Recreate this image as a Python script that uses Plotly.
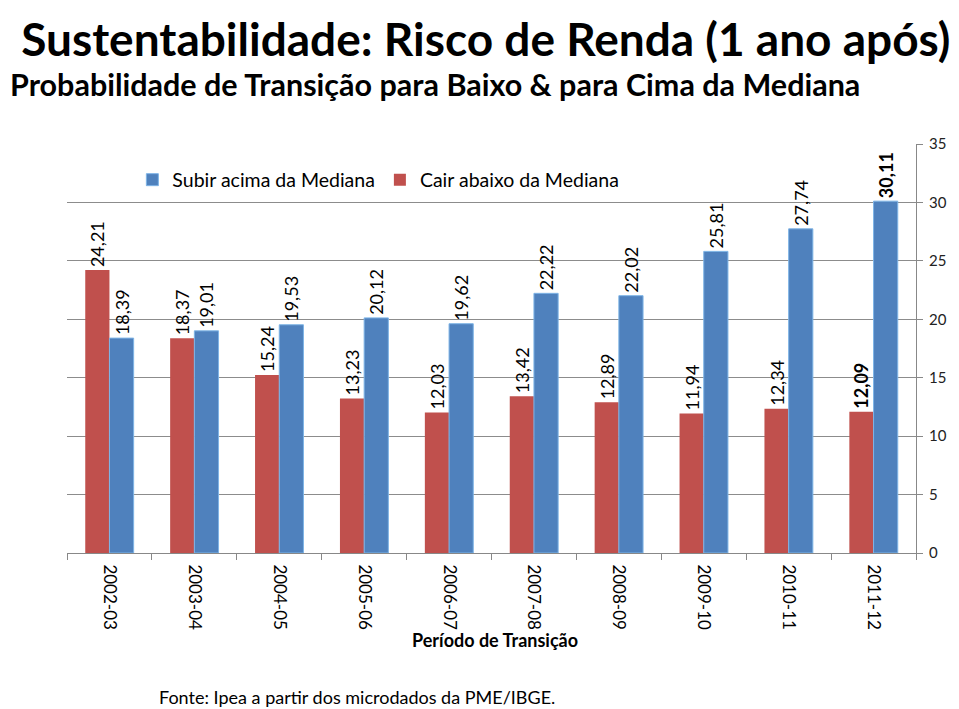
import plotly.graph_objects as go

categories = ["2002-03", "2003-04", "2004-05", "2005-06", "2006-07",
              "2007-08", "2008-09", "2009-10", "2010-11", "2011-12"]
cair = [24.21, 18.37, 15.24, 13.23, 12.03, 13.42, 12.89, 11.94, 12.34, 12.09]
subir = [18.39, 19.01, 19.53, 20.12, 19.62, 22.22, 22.02, 25.81, 27.74, 30.11]
y_ticks = [0, 5, 10, 15, 20, 25, 30, 35]

title_text = "Sustentabilidade: Risco de Renda (1 ano após)"
subtitle_text = "Probabilidade de Transição para Baixo &amp; para Cima da Mediana"

RED = "#C0504D"
BLUE = "#4F81BD"
FONT = "Lato"

def fmt(vals):
    out = []
    for i, v in enumerate(vals):
        s = f"{v:.2f}".replace(".", ",")
        if i == len(vals) - 1:
            s = f"<b>{s}</b>"
        out.append(s)
    return out

fig = go.Figure()
fig.add_trace(go.Bar(
    x=categories, y=cair, name="Cair abaixo da Mediana",
    marker=dict(color=RED, line=dict(width=0)),
    text=fmt(cair), textposition="outside", textangle=-90,
    constraintext="none",
    textfont=dict(size=18, color="black", family=FONT),
    cliponaxis=False,
))
fig.add_trace(go.Bar(
    x=categories, y=subir, name="Subir acima da Mediana",
    marker=dict(color=BLUE, line=dict(width=1, color="#7EB4E6")),
    text=fmt(subir), textposition="outside", textangle=-90,
    constraintext="none",
    textfont=dict(size=18, color="black", family=FONT),
    cliponaxis=False,
))

fig.update_layout(
    width=951, height=701,
    margin=dict(l=59, r=34, t=136, b=156),
    paper_bgcolor="white", plot_bgcolor="white",
    barmode="group", bargap=0.43, bargroupgap=0,
    font=dict(family=FONT, color="black"),
    showlegend=True,
    legend=dict(orientation="h", traceorder="reversed",
                x=0.077, y=0.912, xanchor="left", yanchor="middle",
                font=dict(size=19.5, family=FONT), bgcolor="rgba(0,0,0,0)",
                itemwidth=30),
)
fig.update_xaxes(
    type="category", tickangle=90, tickfont=dict(size=17, family=FONT, color="black"),
    ticklabelstandoff=7,
    showline=True, linecolor="#888888", linewidth=1,
    ticks="outside", tickson="boundaries", ticklen=6, tickcolor="#888888",
    showgrid=False,
)
fig.update_yaxes(
    side="right", range=[0, 35], tickvals=y_ticks,
    tickfont=dict(size=15, family=FONT, color="#222222"),
    ticklabelstandoff=3,
    showgrid=True, gridcolor="#8C8C8C", gridwidth=1,
    showline=True, linecolor="#888888", linewidth=1,
    ticks="outside", ticklen=6, tickcolor="#888888",
    zeroline=False,
)

fig.add_annotation(
    text=(f"<span style='font-size:46px'><b>&nbsp;{title_text}</b></span><br>"
          f"<span style='font-size:30.5px'><b>{subtitle_text}</b></span>"),
    xref="paper", yref="paper", x=-0.069, y=1.331,
    xanchor="left", yanchor="top", align="left", showarrow=False,
    font=dict(size=31, family=FONT, color="black"))
fig.add_annotation(text="<b>Período de Transição</b>",
                   xref="paper", yref="paper", x=0.5047, y=-0.2127,
                   xanchor="center", yanchor="middle", showarrow=False,
                   font=dict(size=18, family=FONT, color="black"))
fig.add_annotation(text="Fonte: Ipea a partir dos microdados da PME/IBGE.",
                   xref="paper", yref="paper", x=0.106, y=-0.352,
                   xanchor="left", yanchor="middle", showarrow=False,
                   font=dict(size=18, family=FONT, color="black"))

fig.write_html("out.html")
